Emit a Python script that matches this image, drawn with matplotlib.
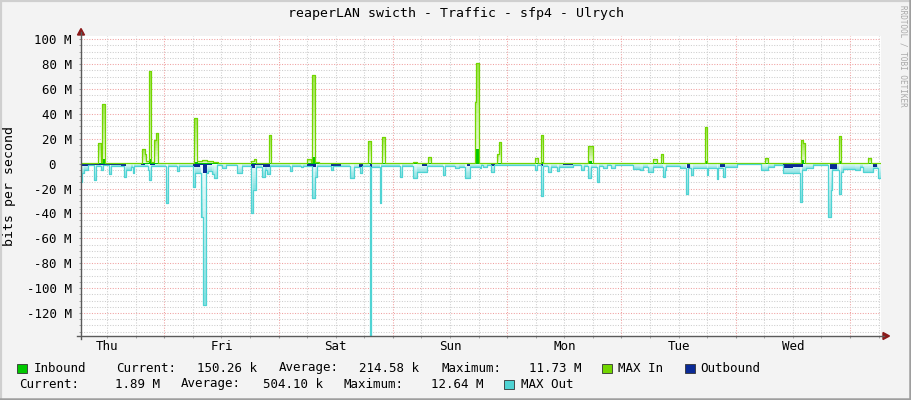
import numpy as np
import matplotlib
matplotlib.use('Agg')
import matplotlib.pyplot as plt
from matplotlib.colors import to_rgb
from matplotlib.lines import Line2D
from matplotlib.patches import Rectangle, Polygon
from matplotlib.ticker import MultipleLocator
import matplotlib.transforms as mtransforms

# time in hours from Thu 00:00, values in Mbit/s, step changes (value holds until next time)
max_in = [(6.5, 0.5), (10.1, 17), (10.6, 1.5), (11.0, 48), (11.5, 0.5), (19.4, 11.5), (19.9, 8),
          (20.2, 2), (20.7, 74.5), (21.2, 1), (21.8, 19), (22.2, 24.5), (22.7, 0.5), (30.2, 37),
          (30.9, 2.5), (32.0, 3), (33.0, 2), (34.2, 1.5), (35.3, 0.5), (42.3, 2.5), (42.8, 3.8),
          (43.2, 0.5), (45.9, 23), (46.4, 0.5), (54.0, 3.5), (54.7, 1.0), (55.1, 71.3), (55.6, 1.0),
          (56.5, 0.5), (66.7, 18), (67.3, 0.5), (69.8, 21.2), (70.4, 0.5), (76.3, 1.5), (77.0, 0.5),
          (79.4, 5), (80.0, 0.5), (89.2, 49.8), (89.5, 80.7), (90.1, 0.5), (93.9, 7.5), (94.3, 17.2),
          (94.7, 0.5), (101.8, 4.5), (102.5, 0.5), (103.1, 22.8), (103.6, 0.5), (113.0, 14.5),
          (114.1, 0.5), (126.7, 3.8), (127.4, 0.5), (128.4, 7.8), (128.8, 0.5), (137.5, 29.2),
          (137.9, 0.5), (150.1, 4.3), (150.8, 0.5), (157.6, 19), (158.1, 16.3), (158.5, 0.5),
          (165.7, 22.3), (166.1, 0.5), (171.8, 4.3), (172.5, 0.5), (174.5, 0.5)]

inbound = [(6.5, 0.3), (11.1, 3.5), (11.5, 0.3), (20.8, 4), (21.2, 0.3), (30.5, 1.5), (31.0, 0.3),
           (55.2, 5), (55.6, 0.3), (89.4, 11.7), (90.1, 0.3), (103.2, 1.5), (103.6, 0.3),
           (113.2, 2), (113.8, 0.3), (137.6, 2.5), (137.9, 0.3), (157.8, 3), (158.4, 0.3),
           (165.7, 2.5), (166.1, 0.3), (174.5, 0.3)]

outbound = [(6.5, -2.0), (8.0, -0.8), (15.0, -1.5), (16.0, -0.5), (19.0, -1.3), (20.0, -0.5),
            (21.0, -1.0), (22.0, -0.5), (30.0, -2.5), (31.5, -1.0), (32.1, -7.8), (33.0, -1.0),
            (34.0, -0.5), (42.3, -3.7), (43.1, -0.8), (44.7, -3.0), (46.2, -0.5), (54.0, -2.0),
            (55.0, -2.5), (55.8, -0.5), (59.0, -1.5), (61.0, -0.5), (64.8, -3.0), (65.8, -0.5),
            (67.1, -12.9), (67.7, -0.5), (78.1, -2.0), (79.2, -0.5), (87.5, -2.0), (88.1, -0.5),
            (92.7, -2.0), (93.4, -0.5), (103.1, -2.0), (103.6, -0.5), (107.8, -1.2), (109.9, -0.5),
            (133.7, -3.7), (134.4, -0.5), (140.7, -2.5), (141.7, -0.5), (154.0, -3.5), (156.0, -2.5),
            (158.2, -0.5), (163.8, -4.5), (165.2, -0.5), (172.8, -2.5), (173.7, -0.5), (174.5, -0.5)]

max_out = [(6.5, -14.5), (6.7, -7.8), (7.2, -5), (7.9, -1.1), (9.2, -12.9), (9.6, -1.9), (10.7, -5),
           (11.1, -1.1), (12.4, -8.4), (12.8, -1.5), (15.5, -11), (15.9, -5), (17.0, -2.4),
           (17.4, -7.2), (17.7, -1.8), (20.5, -5), (20.8, -12.9), (21.2, -1.9), (24.3, -31.9),
           (24.7, -1.9), (26.7, -6), (27.1, -1.9), (30.1, -18.5), (30.4, -7.8), (31.7, -42.6),
           (32.1, -113.6), (32.7, -7.8), (33.1, -6), (34.1, -8.4), (34.4, -11.8), (35.0, -1.1),
           (36.2, -3.7), (36.9, -1.1), (39.3, -7.8), (40.4, -1.9), (42.3, -39.4), (42.7, -21),
           (43.2, -2.4), (44.6, -10.5), (45.1, -5), (45.6, -8.4), (46.2, -1.5), (50.4, -6),
           (50.9, -1.5), (52.8, -3), (53.2, -1.9), (55.1, -27.8), (55.6, -10.5), (56.1, -1.9),
           (58.9, -5), (59.5, -1.9), (63.0, -11.8), (63.8, -3), (65.0, -7.8), (65.5, -1.9),
           (67.1, -140), (67.5, -2.4), (69.2, -31.3), (69.5, -1.5), (73.5, -10.5), (73.9, -1.5),
           (76.3, -11.8), (77.0, -7), (79.2, -1.9), (82.6, -9), (83.0, -1.9), (85.1, -3.7),
           (85.8, -2.4), (87.2, -11.8), (88.2, -2.4), (90.3, -3.7), (90.6, -1.1), (91.0, -3),
           (91.7, -1.1), (92.7, -7), (93.2, -1), (101.8, -5), (102.3, -1.1), (103.1, -25.7),
           (103.6, -1.9), (104.6, -7), (105.1, -2.4), (106.4, -6), (106.9, -2.4), (109.9, -1.1),
           (111.6, -5), (112.1, -1.9), (113.0, -11.2), (113.5, -3), (114.8, -14.5), (115.3, -1.9),
           (116.2, -3.7), (116.9, -1.1), (117.9, -3.7), (118.6, -1.1), (122.4, -4.0), (123.9, -5),
           (124.6, -2.4), (125.6, -6.4), (126.7, -2.4), (128.8, -11), (129.1, -5), (129.4, -1.9),
           (132.3, -3.2), (133.5, -24.6), (133.9, -3.7), (134.7, -9), (135.1, -3.7), (137.9, -9),
           (138.2, -3.7), (140.0, -12.3), (140.3, -3.7), (141.4, -11), (141.7, -2.4), (144.2, -0.5),
           (149.4, -5), (150.8, -2.4), (152.0, -0.8), (154.0, -7.8), (157.5, -30.5), (158.0, -5),
           (158.8, -3.7), (160.2, -0.8), (163.4, -43.1), (163.9, -21), (164.3, -5), (165.7, -24.6),
           (166.1, -6.4), (166.6, -4.4), (169.0, -5), (170.1, -2.4), (170.8, -6.4), (172.9, -3.7),
           (173.9, -11.8), (174.5, -11.8)]

days = ['Thu', 'Fri', 'Sat', 'Sun', 'Mon', 'Tue', 'Wed']
y_ticks = [100, 80, 60, 40, 20, 0, -20, -40, -60, -80, -100, -120]
y_labels = ['100 M', '80 M', '60 M', '40 M', '20 M', '0  ', '-20 M', '-40 M',
            '-60 M', '-80 M', '-100 M', '-120 M']

title = 'reaperLAN swicth - Traffic - sfp4 - Ulrych'
legend1 = [('Inbound', 34), ('Current:', 116), ('150.26 k', 197), ('Average:', 279),
           ('214.58 k', 359), ('Maximum:', 441), ('11.73 M', 529), ('MAX In', 618), ('Outbound', 700)]
legend2 = [('Current:', 19), ('1.89 M', 115), ('Average:', 181), ('504.10 k', 263),
           ('Maximum:', 343), ('12.64 M', 431), ('MAX Out', 521)]

c_in = '#00C800'
c_maxin = '#72D600'
c_out = '#0A2A96'
c_maxout = '#4FD3D3'

W, H = 911, 400
plt.rcParams['font.family'] = 'DejaVu Sans Mono'


def split(pairs):
    t = np.array([p[0] for p in pairs])
    v = np.array([p[1] for p in pairs], dtype=float)
    return t, v


def fx(x):
    return x / W


def fy(y):
    return 1 - y / H


def light(c, t):
    rgb = np.array(to_rgb(c))
    return tuple(1 - t * (1 - rgb))


def grad_area(ax, t, v, color, n=12):
    for k in range(n):
        a = 0.08 + 0.62 * (k + 0.5) / n
        ax.fill_between(t, v * k / n, v * (k + 1) / n, step='post',
                        color=light(color, a), lw=0)


fig = plt.figure(figsize=(W / 100, H / 100), dpi=100, facecolor='#F3F3F3')
ax = fig.add_axes([81 / W, 64 / H, 800 / W, 300 / H])
ax.set_facecolor('white')

t, v = split(max_in)
grad_area(ax, t, v, c_maxin)
ax.step(t, v, where='post', color=c_maxin, lw=0.9)
t, v = split(inbound)
ax.fill_between(t, 0, v, step='post', color=c_in, lw=0)

t, v = split(max_out)
grad_area(ax, t, v, c_maxout)
ax.step(t, v, where='post', color=c_maxout, lw=0.9)
t, v = split(outbound)
ax.fill_between(t, 0, v, step='post', color=c_out, lw=0)

ax.set_xlim(6.5, 174.5)
ax.set_ylim(-138.5, 102.6)

ax.xaxis.set_major_locator(MultipleLocator(24))
ax.xaxis.set_minor_locator(MultipleLocator(6))
ax.set_yticks(y_ticks)
ax.set_yticklabels(y_labels, fontsize=9)
ax.yaxis.set_minor_locator(MultipleLocator(5))
ax.grid(which='major', color='#F0A0A0', linestyle=(0, (1, 1.5)), lw=0.75)
ax.grid(which='minor', color='#CDCDCD', linestyle=(0, (1, 1.5)), lw=0.75)
ax.set_axisbelow(True)
ax.tick_params(which='both', length=1.5, color='#999999', pad=5)
ax.tick_params(axis='x', labelbottom=False)
for s in ax.spines.values():
    s.set_visible(False)

trans = mtransforms.blended_transform_factory(ax.transData, ax.transAxes)
for i, d in enumerate(days):
    ax.text(12 + 24 * i, -0.034, d, transform=trans, ha='center', va='center', fontsize=9)

# axes lines with rrdtool arrows
fig.add_artist(Line2D([fx(81), fx(81)], [fy(339), fy(32)], color='#5A5A5A', lw=1))
fig.add_artist(Line2D([fx(77), fx(884)], [fy(336), fy(336)], color='#5A5A5A', lw=1))
fig.add_artist(Polygon([[fx(77.5), fy(35)], [fx(84.5), fy(35)], [fx(81), fy(28.5)]],
                       closed=True, transform=fig.transFigure, color='#8B1A1A'))
fig.add_artist(Polygon([[fx(883), fy(332.5)], [fx(883), fy(339.5)], [fx(889.5), fy(336)]],
                       closed=True, transform=fig.transFigure, color='#8B1A1A'))

# frame
fig.add_artist(Line2D([0, 1], [fy(0.8), fy(0.8)], color='#CFCFCF', lw=1.6))
fig.add_artist(Line2D([fx(0.8), fx(0.8)], [0, 1], color='#CFCFCF', lw=1.6))
fig.add_artist(Line2D([fx(910), fx(910)], [0, 1], color='#9E9E9E', lw=1.8))
fig.add_artist(Line2D([0, 1], [fy(399.2), fy(399.2)], color='#9E9E9E', lw=1.8))

fig.text(0.5, fy(14), title, ha='center', va='center', fontsize=9.5)
fig.text(fx(10), fy(186), 'bits per second', rotation=90, ha='center', va='center', fontsize=9.5)
fig.text(fx(903), fy(5), 'RRDTOOL / TOBI OETIKER', rotation=270, ha='center', va='top',
         fontsize=5.5, color='#A8A8A8')

for txt, x in legend1:
    fig.text(fx(x), fy(368), txt, ha='left', va='center', fontsize=9)
for txt, x in legend2:
    fig.text(fx(x), fy(384), txt, ha='left', va='center', fontsize=9)

swatches = [(17, 368, c_in), (602, 368, c_maxin), (685, 368, c_out), (504, 384, c_maxout)]
for x, y, c in swatches:
    fig.add_artist(Rectangle((fx(x), fy(y + 4.5)), 10 / W, 9 / H, transform=fig.transFigure,
                             facecolor=c, edgecolor='#333333', lw=0.6))

fig.savefig('out.png', dpi=100, facecolor=fig.get_facecolor())
